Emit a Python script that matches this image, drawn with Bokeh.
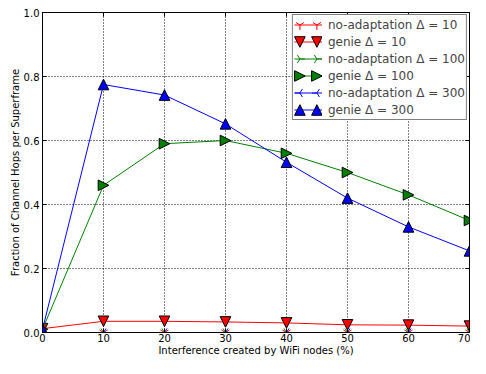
from bokeh.plotting import figure
from bokeh.models import (LinearAxis, Range1d, FixedTicker, CustomJSTickFormatter,
                          Legend, LegendItem, CustomJS)
from bokeh.embed import file_html
from bokeh.resources import INLINE

x = [0, 10, 20, 30, 40, 50, 60, 70]
noadapt_10 = [0, 0, 0, 0, 0, 0, 0, 0]
genie_10 = [0.012, 0.035, 0.035, 0.033, 0.030, 0.024, 0.023, 0.020]
noadapt_100 = [0, 0, 0, 0, 0, 0, 0, 0]
genie_100 = [0.01, 0.46, 0.59, 0.60, 0.56, 0.50, 0.43, 0.35]
noadapt_300 = [0, 0, 0, 0, 0, 0, 0, 0]
genie_300 = [0.01, 0.775, 0.742, 0.652, 0.532, 0.42, 0.33, 0.255]

x_ticks = [0, 10, 20, 30, 40, 50, 60, 70]
y_ticks = [0.0, 0.2, 0.4, 0.6, 0.8, 1.0]

FONT = "DejaVu Sans"

# marker shapes (matplotlib-like); in the legend two markers are drawn, as matplotlib does
MARKER_JS = """
const {ctx, i, r, visuals} = cb_data;
const leg = r < 4.5;
const R = leg ? 5.3 : r;
const offs = leg ? [-8.5, 8.5] : [0];
const shape = "%s";
for (const o of offs) {
  ctx.beginPath();
  if (shape == "tri_up") {
    ctx.moveTo(o, -R); ctx.lineTo(o - R, R); ctx.lineTo(o + R, R); ctx.closePath();
    visuals.fill.apply(ctx, i); visuals.line.apply(ctx, i);
  } else if (shape == "tri_down") {
    ctx.moveTo(o, R); ctx.lineTo(o - R, -R); ctx.lineTo(o + R, -R); ctx.closePath();
    visuals.fill.apply(ctx, i); visuals.line.apply(ctx, i);
  } else if (shape == "tri_right") {
    ctx.moveTo(o + R, 0); ctx.lineTo(o - R, -R); ctx.lineTo(o - R, R); ctx.closePath();
    visuals.fill.apply(ctx, i); visuals.line.apply(ctx, i);
  } else {
    const s = R * 0.95;
    let pts;
    if (shape == "y_down") pts = [[0, 1], [0.8, -0.5], [-0.8, -0.5]];
    else if (shape == "y_right") pts = [[1, 0], [-0.5, 0.8], [-0.5, -0.8]];
    else pts = [[-1, 0], [0.5, 0.8], [0.5, -0.8]];
    for (const [px, py] of pts) { ctx.moveTo(o, 0); ctx.lineTo(o + px * s, py * s); }
    visuals.line.apply(ctx, i);
  }
}
"""

def mk(name):
    return CustomJS(code=MARKER_JS % name)

defs = {"@" + n: mk(n) for n in ["tri_up", "tri_down", "tri_right", "y_down", "y_right", "y_left"]}

p = figure(width=470, height=358, output_backend="svg", toolbar_location=None,
           x_range=Range1d(0, 70), y_range=Range1d(0, 1.0),
           min_border_left=42, min_border_right=1, min_border_top=12, min_border_bottom=20)
p.outline_line_color = "black"
p.outline_line_width = 1
p.background_fill_color = "white"

for ax in (p.xaxis[0], p.yaxis[0]):
    ax.major_tick_in = 4
    ax.major_tick_out = 0
    ax.minor_tick_line_color = None
    ax.axis_line_color = "black"
    ax.major_label_text_font = FONT
    ax.major_label_text_font_size = "10px"
    ax.major_label_text_color = "black"
    ax.axis_label_text_font = FONT
    ax.axis_label_text_font_size = "10px"
    ax.axis_label_text_font_style = "normal"
    ax.axis_label_text_color = "black"
    ax.major_label_standoff = 1
    ax.axis_label_standoff = 0

p.yaxis.major_label_standoff = 3
p.xaxis.ticker = FixedTicker(ticks=x_ticks)
p.yaxis.ticker = FixedTicker(ticks=y_ticks)
p.yaxis.formatter = CustomJSTickFormatter(code="return tick.toFixed(1);")
p.xaxis.axis_label = "Interference created by WiFi nodes (%)"
p.yaxis.axis_label = "Fraction of Channel Hops per Superframe"

blank = CustomJSTickFormatter(code="return '';")
top = LinearAxis(ticker=FixedTicker(ticks=x_ticks), formatter=blank, major_tick_in=4,
                 major_tick_out=0, minor_tick_line_color=None, major_label_standoff=0,
                 major_label_text_font_size="1px")
right = LinearAxis(ticker=FixedTicker(ticks=y_ticks), formatter=blank, major_tick_in=4,
                   major_tick_out=0, minor_tick_line_color=None, major_label_standoff=0,
                   major_label_text_font_size="1px")
p.add_layout(top, "above")
p.add_layout(right, "right")

p.grid.grid_line_color = "black"
p.grid.grid_line_dash = "1 2"
p.grid.grid_line_width = 1
p.xgrid.ticker = FixedTicker(ticks=x_ticks)
p.ygrid.ticker = FixedTicker(ticks=y_ticks)

items = []

def series(ys, color, marker, label, filled):
    l = p.line(x, ys, line_color=color, line_width=1)
    if filled:
        m = p.scatter(x, ys, marker=marker, defs=defs, size=10.6, fill_color=color,
                      line_color="black", line_width=1)
    else:
        m = p.scatter(x, ys, marker=marker, defs=defs, size=10.6, fill_color=None,
                      line_color=color, line_width=1)
    items.append(LegendItem(label=label, renderers=[l, m]))

series(noadapt_10, "red", "@y_down", "no-adaptation \u0394 = 10", False)
series(genie_10, "red", "@tri_down", "genie \u0394 = 10", True)
series(noadapt_100, "green", "@y_right", "no-adaptation \u0394 = 100", False)
series(genie_100, "green", "@tri_right", "genie \u0394 = 100", True)
series(noadapt_300, "blue", "@y_left", "no-adaptation \u0394 = 300", False)
series(genie_300, "blue", "@tri_up", "genie \u0394 = 300", True)

legend = Legend(items=items, location="top_right")
legend.label_text_font = FONT
legend.label_text_font_size = "12px"
legend.border_line_color = "black"
legend.border_line_width = 1
legend.background_fill_alpha = 1
legend.spacing = 0
legend.padding = 1
legend.margin = 2
legend.glyph_width = 28
legend.glyph_height = 17
legend.label_height = 17
legend.label_standoff = 6
p.add_layout(legend, "center")

open("out.html", "w").write(file_html(p, INLINE))
